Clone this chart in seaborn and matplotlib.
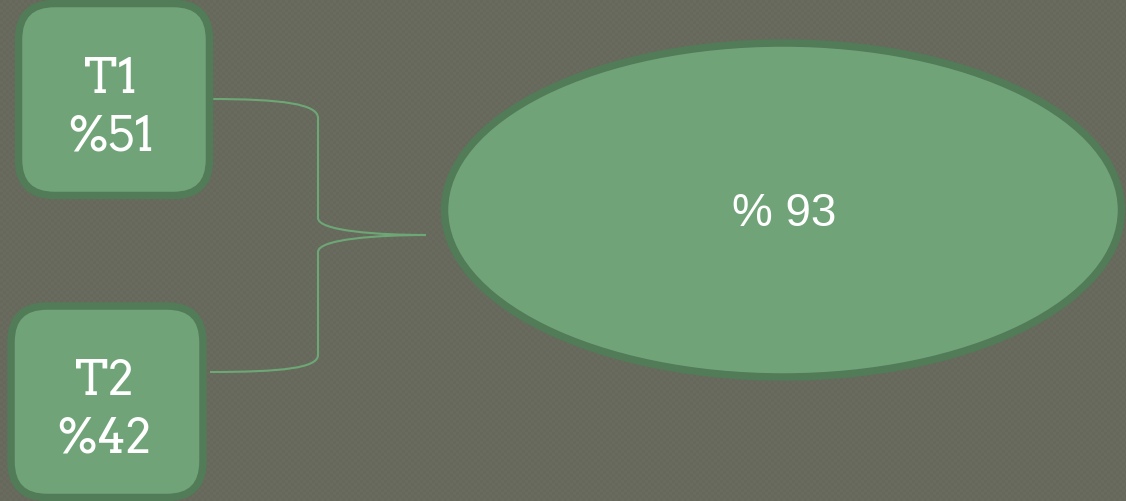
import matplotlib
matplotlib.use("Agg")
import matplotlib.pyplot as plt
import seaborn as sns
import numpy as np
from matplotlib.patches import FancyBboxPatch, Ellipse, PathPatch
from matplotlib.path import Path

# data
labels = ["T1", "T2"]
values = [51, 42]
total = 93

bg = "#676a5c"
fill = "#70a478"
edge = "#527b57"
line_col = "#6ea776"

sns.set_theme(style="white")
plt.rcParams["font.family"] = ["DejaVu Sans"]

W, H = 1126, 501
fig = plt.figure(figsize=(W / 100, H / 100), dpi=100)
fig.patch.set_facecolor(bg)
ax = fig.add_axes([0, 0, 1, 1])
ax.set_facecolor(bg)

# faint woven background texture
yy, xx = np.mgrid[0:H, 0:W]
chk = (((xx // 3) + (yy // 3)) % 2) * 2 - 1
base = np.array(matplotlib.colors.to_rgb(bg))
tex = np.clip(base[None, None, :] + 0.007 * chk[..., None], 0, 1)
ax.imshow(tex, extent=(0, W, H, 0), interpolation="nearest", zorder=0)
ax.set_xlim(0, W)
ax.set_ylim(H, 0)
ax.axis("off")

# boxes: (x0, y0, w, h) of the border centre line
boxes = [(18.5, 3.5, 191, 192), (11, 306, 192, 191.5)]
for (x0, y0, w, h), lab, val in zip(boxes, labels, values):
    p = FancyBboxPatch((x0, y0), w, h,
                       boxstyle="round,pad=0,rounding_size=36",
                       facecolor=fill, edgecolor=edge, linewidth=5.4,
                       zorder=2)
    ax.add_patch(p)
    cx = x0 + w / 2 - 3
    cy = y0 + h / 2
    ax.text(cx, cy - 7, lab, ha="center", va="baseline", color="white",
            fontsize=34, family=["Arvo", "DejaVu Serif"], zorder=3)
    ax.text(cx, cy + 51, f"%{val}", ha="center", va="baseline",
            color="white", fontsize=34, family=["Arvo", "DejaVu Serif"],
            zorder=3)

# connector brace
verts = [
    (210, 99), (282, 99), (318, 104), (318, 118),
    (318, 218),
    (318, 231), (378, 235), (426, 235),
    (378, 235), (318, 239), (318, 252),
    (318, 355),
    (318, 368), (282, 372), (210, 372),
]
codes = [Path.MOVETO, Path.CURVE4, Path.CURVE4, Path.CURVE4,
         Path.LINETO,
         Path.CURVE4, Path.CURVE4, Path.CURVE4,
         Path.CURVE4, Path.CURVE4, Path.CURVE4,
         Path.LINETO,
         Path.CURVE4, Path.CURVE4, Path.CURVE4]
ax.add_patch(PathPatch(Path(verts, codes), facecolor="none",
                       edgecolor=line_col, linewidth=1.5, zorder=1))

# result ellipse
ell = Ellipse((783, 210), 677, 334, facecolor=fill, edgecolor=edge,
              linewidth=5.4, zorder=2)
ax.add_patch(ell)
ax.text(784, 226, f"% {total}", ha="center", va="baseline", color="white",
        fontsize=33, family=["Liberation Sans", "DejaVu Sans"], zorder=3)

fig.savefig("out.png", dpi=100, facecolor=bg)
